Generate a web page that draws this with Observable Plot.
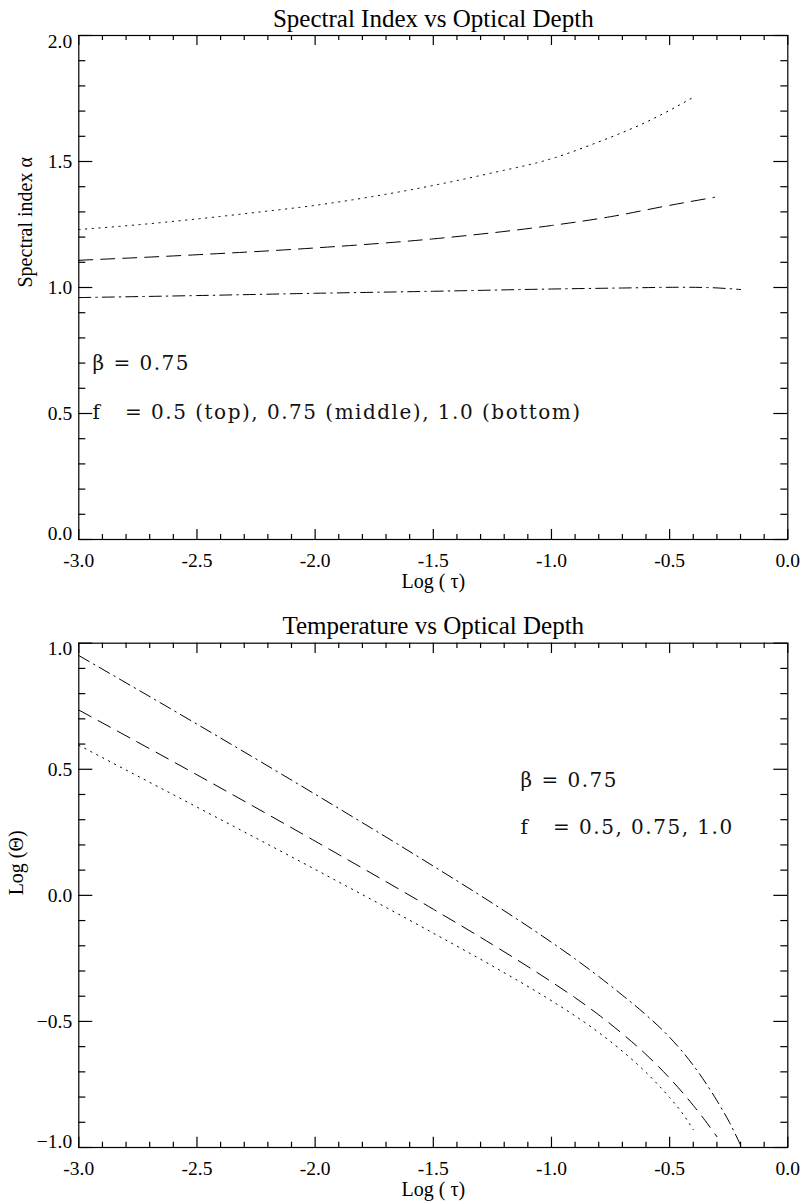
<!DOCTYPE html>
<html>
<head>
<meta charset="utf-8">
<script src="https://cdn.jsdelivr.net/npm/d3@7"></script>
<script src="https://cdn.jsdelivr.net/npm/@observablehq/plot@0.6"></script>
<style>
html, body { margin: 0; padding: 0; background: #fff; }
#chart svg { display: block; }
g[aria-label="text"][font-family*="DejaVu"] text { letter-spacing: 1.5px; white-space: pre; }
</style>
</head>
<body>
<div id="chart"></div>
<script>
// ---------- shared axis ticks ----------
const xMajor = [-3.0, -2.5, -2.0, -1.5, -1.0, -0.5, 0.0];
const xLabels = ["-3.0", "-2.5", "-2.0", "-1.5", "-1.0", "-0.5", "0.0"];
const xMinor = [-2.9, -2.8, -2.7, -2.6, -2.4, -2.3, -2.2, -2.1, -1.9, -1.8, -1.7, -1.6,
                -1.4, -1.3, -1.2, -1.1, -0.9, -0.8, -0.7, -0.6, -0.4, -0.3, -0.2, -0.1];

// ---------- top panel: spectral index ----------
const topTitle = "Spectral Index vs Optical Depth";
const topXTitle = "Log ( \u03c4)";
const topYTitle = "Spectral index \u03b1";
const topYMajor = [0.0, 0.5, 1.0, 1.5, 2.0];
const topYLabels = ["0.0", "0.5", "1.0", "1.5", "2.0"];
const topYMinor = [0.1, 0.2, 0.3, 0.4, 0.6, 0.7, 0.8, 0.9, 1.1, 1.2, 1.3, 1.4, 1.6, 1.7, 1.8, 1.9];

const alphaTauF05 = [-3.0, -2.75, -2.5, -2.25, -2.0, -1.75, -1.5, -1.25, -1.0, -0.8, -0.6, -0.5, -0.4];
const alphaF05 = [1.230, 1.249, 1.272, 1.298, 1.326, 1.362, 1.405, 1.455, 1.511, 1.578, 1.656, 1.703, 1.755];
const alphaTauF075 = [-3.0, -2.5, -2.0, -1.5, -1.0, -0.75, -0.5, -0.31];
const alphaF075 = [1.108, 1.130, 1.157, 1.193, 1.246, 1.281, 1.326, 1.358];
const alphaTauF10 = [-3.0, -2.5, -2.0, -1.5, -1.0, -0.7, -0.45, -0.35, -0.2];
const alphaF10 = [0.960, 0.968, 0.977, 0.985, 0.994, 0.998, 1.001, 1.000, 0.992];

const topNoteX = [-2.942, -2.942];
const topNoteY = [0.697, 0.502];
const topNoteText = ["\u03b2 = 0.75", "f\u00a0\u00a0\u00a0= 0.5 (top), 0.75 (middle), 1.0 (bottom)"];

// ---------- bottom panel: temperature ----------
const botTitle = "Temperature vs Optical Depth";
const botXTitle = "Log ( \u03c4)";
const botYTitle = "Log (\u0398)";
const botYMajor = [-1.0, -0.5, 0.0, 0.5, 1.0];
const botYLabels = ["\u22121.0", "\u22120.5", "0.0", "0.5", "1.0"];
const botYMinor = [-0.9, -0.8, -0.7, -0.6, -0.4, -0.3, -0.2, -0.1, 0.1, 0.2, 0.3, 0.4, 0.6, 0.7, 0.8, 0.9];

const thetaTauF05 = [-3.0, -2.5, -2.0, -1.5, -1.25, -1.0, -0.9, -0.8, -0.7, -0.6, -0.5, -0.45, -0.4];
const thetaF05 = [0.595, 0.350, 0.103, -0.150, -0.280, -0.418, -0.478, -0.544, -0.618, -0.702, -0.802, -0.859, -0.929];
const thetaTauF075 = [-3.0, -2.5, -2.0, -1.5, -1.25, -1.0, -0.9, -0.8, -0.7, -0.6, -0.5, -0.4, -0.35, -0.3];
const thetaF075 = [0.735, 0.478, 0.215, -0.055, -0.195, -0.343, -0.406, -0.474, -0.549, -0.631, -0.725, -0.833, -0.893, -0.957];
const thetaTauF10 = [-3.0, -2.5, -2.0, -1.5, -1.25, -1.0, -0.9, -0.8, -0.7, -0.6, -0.5, -0.4, -0.3, -0.25, -0.2];
const thetaF10 = [0.951, 0.679, 0.401, 0.116, -0.031, -0.186, -0.252, -0.322, -0.396, -0.474, -0.563, -0.674, -0.814, -0.895, -0.990];

const botNoteX = [-1.131, -1.131];
const botNoteY = [0.456, 0.267];
const botNoteText = ["\u03b2 = 0.75", "f\u00a0\u00a0\u00a0= 0.5, 0.75, 1.0"];

// ---------- line styles (IDL linestyles 1, 2, 3) ----------
const dotted = "1.3,5.4";
const dashed = "14,8";
const dashDot = "12,5,1.5,5";

// frame size in pixels (805 minus side margins; panel height minus top/bottom margins)
const FW = 709, FH = 504;
const majX = 10, minX = 5, majY = 14, minY = 7;

function panel(o) {
  const lbl = (d) => o.yLabels[o.yMajor.indexOf(d)];
  const xl = (d) => xLabels[xMajor.indexOf(d)];
  const tk = {stroke: "black", strokeWidth: 1.2};
  const yMid = o.yMajor.slice(1, -1);
  return Plot.plot({
    width: 805,
    height: 601,
    marginLeft: 78.3,
    marginRight: 17.7,
    marginTop: o.marginTop,
    marginBottom: o.marginBottom,
    style: {fontFamily: "'Liberation Serif', 'Times New Roman', serif", background: "white", color: "black"},
    x: {domain: [-3, 0], axis: null},
    y: {domain: o.yDomain, axis: null},
    marks: [
      Plot.frame({stroke: "black", strokeWidth: 1.2}),
      // ticks, drawn inward on all four sides
      Plot.ruleX(xMajor, {x: (d) => d, insetTop: FH - majX, ...tk}),
      Plot.ruleX(xMinor, {x: (d) => d, insetTop: FH - minX, ...tk}),
      Plot.ruleX(xMajor, {x: (d) => d, insetBottom: FH - majX, ...tk}),
      Plot.ruleX(xMinor, {x: (d) => d, insetBottom: FH - minX, ...tk}),
      Plot.ruleY(o.yMajor, {y: (d) => d, insetRight: FW - majY, ...tk}),
      Plot.ruleY(o.yMinor, {y: (d) => d, insetRight: FW - minY, ...tk}),
      Plot.ruleY(o.yMajor, {y: (d) => d, insetLeft: FW - majY, ...tk}),
      Plot.ruleY(o.yMinor, {y: (d) => d, insetLeft: FW - minY, ...tk}),
      // tick labels
      Plot.text(xMajor, {x: (d) => d, frameAnchor: "bottom", dy: 20.8, text: xl, fontSize: 19.5, lineAnchor: "middle", fill: "black"}),
      Plot.text(yMid, {y: (d) => d, frameAnchor: "left", dx: -6.6, text: lbl, fontSize: 19.5, textAnchor: "end", lineAnchor: "middle", fill: "black"}),
      Plot.text([o.yMajor[0]], {y: (d) => d, frameAnchor: "left", dx: -6.6, dy: -5.5, text: lbl, fontSize: 19.5, textAnchor: "end", lineAnchor: "middle", fill: "black"}),
      Plot.text([o.yMajor[o.yMajor.length - 1]], {y: (d) => d, frameAnchor: "left", dx: -6.6, dy: 6, text: lbl, fontSize: 19.5, textAnchor: "end", lineAnchor: "middle", fill: "black"}),
      // titles
      Plot.text([o.title], {frameAnchor: "top", dy: -17, fontSize: 25, lineAnchor: "middle", fill: "black"}),
      Plot.text([o.xTitle], {frameAnchor: "bottom", dy: 41.6, fontSize: 20, lineAnchor: "middle", fill: "black"}),
      Plot.text([o.yTitle], {frameAnchor: "left", dx: o.yTitleDx, rotate: -90, fontSize: 20, lineAnchor: "middle", fill: "black"}),
      // curves
      Plot.line(d3.zip(o.s1x, o.s1y), {stroke: "black", strokeWidth: 1, strokeDasharray: dotted, curve: "monotone-x"}),
      Plot.line(d3.zip(o.s2x, o.s2y), {stroke: "black", strokeWidth: 1, strokeDasharray: dashed, curve: "monotone-x"}),
      Plot.line(d3.zip(o.s3x, o.s3y), {stroke: "black", strokeWidth: 1, strokeDasharray: dashDot, curve: "monotone-x"}),
      // annotations
      Plot.text(o.noteText, {x: (d, i) => o.noteX[i], y: (d, i) => o.noteY[i], text: (d) => d,
        fontFamily: "DejaVu Serif", fontSize: 20, textAnchor: "start", lineAnchor: "middle", fill: "#111"})
    ]
  });
}

const chart = document.getElementById("chart");
chart.appendChild(panel({
  title: topTitle, xTitle: topXTitle, yTitle: topYTitle,
  yDomain: [0, 2], yMajor: topYMajor, yLabels: topYLabels, yMinor: topYMinor,
  s1x: alphaTauF05, s1y: alphaF05, s2x: alphaTauF075, s2y: alphaF075, s3x: alphaTauF10, s3y: alphaF10,
  noteX: topNoteX, noteY: topNoteY, noteText: topNoteText,
  marginTop: 35, marginBottom: 62, yTitleDx: -53
}));
chart.appendChild(panel({
  title: botTitle, xTitle: botXTitle, yTitle: botYTitle,
  yDomain: [-1, 1], yMajor: botYMajor, yLabels: botYLabels, yMinor: botYMinor,
  s1x: thetaTauF05, s1y: thetaF05, s2x: thetaTauF075, s2y: thetaF075, s3x: thetaTauF10, s3y: thetaF10,
  noteX: botNoteX, noteY: botNoteY, noteText: botNoteText,
  marginTop: 41.7, marginBottom: 55, yTitleDx: -62
}));
</script>
</body>
</html>
